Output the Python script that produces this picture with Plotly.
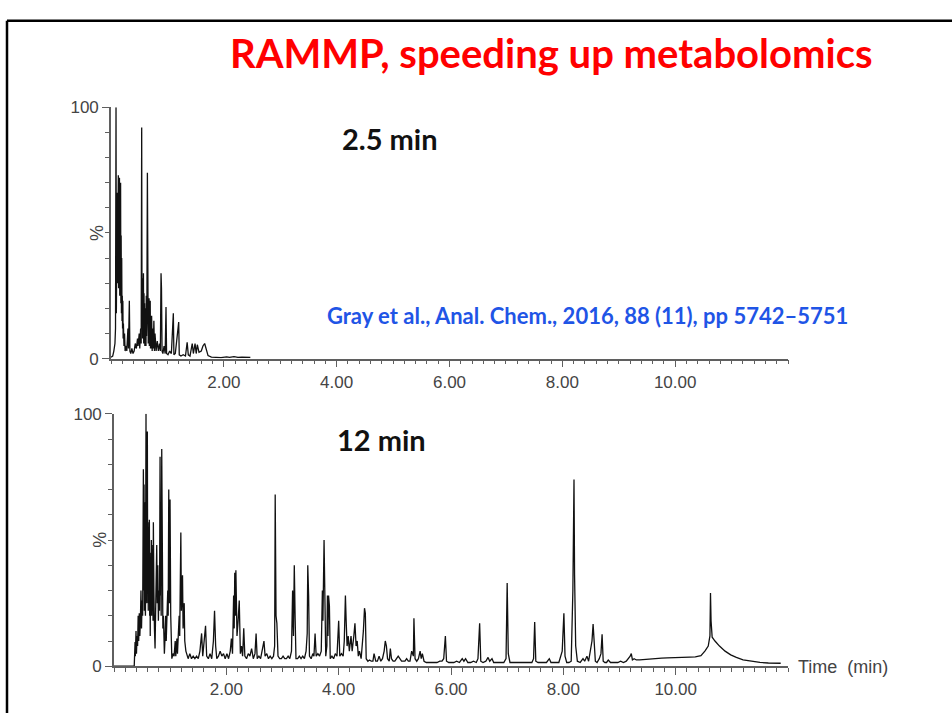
import plotly.graph_objects as go

# ---------------- data ----------------
X_TICK_VALUES = [2, 4, 6, 8, 10]
X_TICK_LABELS = ["2.00", "4.00", "6.00", "8.00", "10.00"]
Y_TICK_VALUES = [0, 100]
Y_TICK_LABELS = ["0", "100"]

# 2.5 min run: (time [min], intensity [%]) vertices of the chromatogram
TOP_POINTS = [
    (0.00, 0.5), (0.03, 1), (0.05, 3), (0.07, 6), (0.08, 12), (0.089, 100), (0.095, 18), (0.10, 45),
    (0.105, 20), (0.11, 66), (0.115, 30), (0.12, 72), (0.125, 40), (0.13, 73), (0.135, 28), (0.14, 68),
    (0.145, 45), (0.15, 72), (0.155, 25), (0.16, 60), (0.165, 30), (0.17, 70), (0.175, 22), (0.18, 49),
    (0.185, 18), (0.19, 40), (0.195, 15), (0.20, 25), (0.205, 12), (0.21, 23), (0.215, 8), (0.22, 14),
    (0.23, 5), (0.24, 10), (0.25, 3), (0.27, 5), (0.28, 3), (0.30, 12), (0.31, 4), (0.325, 23),
    (0.335, 3), (0.35, 2), (0.37, 4), (0.39, 2), (0.41, 3), (0.43, 6), (0.45, 4), (0.47, 8),
    (0.48, 5), (0.50, 10), (0.51, 4), (0.525, 12), (0.535, 6), (0.544, 92), (0.55, 12), (0.555, 32),
    (0.56, 8), (0.565, 28), (0.57, 12), (0.575, 34), (0.58, 6), (0.585, 26), (0.59, 10), (0.595, 22),
    (0.60, 5), (0.605, 20), (0.61, 8), (0.615, 17), (0.62, 5), (0.625, 25), (0.63, 9), (0.635, 14),
    (0.645, 74), (0.65, 8), (0.655, 25), (0.66, 6), (0.665, 22), (0.67, 8), (0.675, 24), (0.68, 5),
    (0.685, 19), (0.69, 8), (0.695, 23), (0.70, 4), (0.705, 16), (0.71, 4), (0.72, 17), (0.73, 3),
    (0.74, 12), (0.75, 4), (0.76, 15), (0.77, 3), (0.78, 10), (0.80, 3), (0.82, 7), (0.84, 3),
    (0.86, 6), (0.875, 3), (0.887, 34), (0.895, 28), (0.905, 3), (0.92, 2), (0.94, 5), (0.96, 2),
    (0.975, 20.5), (0.985, 2), (1.01, 1.5), (1.04, 3), (1.07, 2), (1.105, 18), (1.115, 1.5), (1.14, 2),
    (1.20, 14.5), (1.21, 1.5), (1.24, 1), (1.28, 1.5), (1.32, 1), (1.35, 6.5), (1.37, 1.5), (1.40, 1),
    (1.44, 6), (1.46, 2), (1.49, 6), (1.51, 2), (1.53, 5.5), (1.56, 2.5), (1.60, 3), (1.63, 5),
    (1.66, 6), (1.69, 3), (1.72, 1.2), (1.78, 0.6), (1.85, 0.5), (1.95, 0.4), (2.05, 0.7), (2.10, 0.5),
    (2.18, 0.8), (2.25, 0.5), (2.32, 0.6), (2.40, 0.5), (2.47, 0.5),
]

# 12 min run: (time [min], intensity [%]) vertices of the chromatogram
BOTTOM_POINTS = [
    (0.00, 0.0), (0.36, 0.0), (0.375, 9.6), (0.38, 4), (0.392, 14), (0.40, 5), (0.41, 12), (0.42, 8),
    (0.43, 20), (0.44, 10), (0.45, 21), (0.46, 12), (0.47, 18), (0.48, 30), (0.49, 15), (0.50, 26),
    (0.51, 20), (0.515, 60), (0.52, 25), (0.523, 78), (0.53, 30), (0.535, 72), (0.54, 22), (0.545, 65),
    (0.55, 28), (0.555, 58), (0.56, 20), (0.57, 100), (0.575, 35), (0.58, 62), (0.585, 25), (0.594, 93),
    (0.60, 30), (0.605, 57), (0.61, 22), (0.615, 55), (0.62, 25), (0.63, 58), (0.635, 20), (0.64, 45),
    (0.645, 12), (0.65, 38), (0.66, 22), (0.665, 50), (0.67, 20), (0.675, 35), (0.68, 25), (0.69, 48),
    (0.695, 18), (0.701, 57), (0.71, 30), (0.72, 15), (0.731, 7), (0.74, 20), (0.75, 30), (0.761, 48),
    (0.77, 25), (0.78, 40), (0.79, 18), (0.80, 30), (0.81, 22), (0.82, 83), (0.83, 28), (0.835, 40),
    (0.84, 20), (0.85, 86), (0.86, 30), (0.87, 15), (0.88, 20), (0.897, 5), (0.91, 12), (0.92, 20),
    (0.93, 10), (0.94, 22), (0.957, 30), (0.965, 20), (0.975, 70), (0.985, 25), (0.998, 66), (1.01, 20),
    (1.02, 8), (1.03, 3), (1.05, 5), (1.07, 4), (1.09, 10), (1.10, 4), (1.12, 11), (1.13, 5),
    (1.16, 20), (1.17, 12), (1.19, 53), (1.20, 22), (1.22, 36), (1.23, 15), (1.25, 25), (1.26, 10),
    (1.28, 6), (1.30, 4), (1.32, 3), (1.35, 5), (1.38, 3), (1.41, 4), (1.44, 3), (1.47, 4),
    (1.50, 3), (1.53, 6), (1.56, 13), (1.58, 4), (1.60, 8), (1.63, 16), (1.65, 4), (1.68, 3),
    (1.71, 5), (1.74, 3), (1.77, 10), (1.79, 22), (1.81, 8), (1.83, 3), (1.86, 4), (1.89, 6),
    (1.92, 4), (1.95, 5), (1.98, 3), (2.01, 5), (2.04, 3), (2.07, 6), (2.09, 11), (2.11, 5),
    (2.13, 28), (2.14, 15), (2.15, 37), (2.16, 20), (2.17, 38), (2.19, 12), (2.21, 18), (2.23, 26),
    (2.25, 5), (2.27, 8), (2.29, 4), (2.31, 15), (2.33, 4), (2.36, 3), (2.39, 5), (2.42, 4),
    (2.45, 7), (2.48, 3), (2.51, 5), (2.53, 13), (2.55, 3), (2.58, 4), (2.61, 3), (2.64, 6),
    (2.67, 10), (2.69, 4), (2.72, 5), (2.75, 3), (2.78, 4), (2.81, 3), (2.84, 4), (2.86, 8),
    (2.87, 68), (2.885, 20), (2.90, 17), (2.92, 4), (2.95, 3), (2.98, 3), (3.01, 4), (3.04, 3),
    (3.07, 3), (3.10, 4), (3.13, 3), (3.16, 6), (3.18, 30), (3.195, 12), (3.21, 40), (3.225, 19),
    (3.24, 3), (3.27, 3), (3.30, 4), (3.33, 3), (3.36, 4), (3.39, 3), (3.42, 6), (3.44, 13),
    (3.45, 40), (3.465, 28), (3.48, 4), (3.51, 3), (3.54, 5), (3.56, 4), (3.58, 13), (3.60, 4),
    (3.63, 5), (3.66, 4), (3.69, 6), (3.71, 30), (3.72, 18), (3.74, 50), (3.755, 32), (3.77, 4),
    (3.79, 8), (3.80, 28), (3.81, 12), (3.82, 28), (3.835, 24), (3.85, 3), (3.88, 4), (3.91, 3),
    (3.94, 5), (3.97, 4), (4.00, 18), (4.02, 4), (4.05, 5), (4.08, 4), (4.10, 10), (4.12, 28),
    (4.135, 17), (4.15, 8), (4.17, 12), (4.19, 6), (4.22, 12), (4.24, 6), (4.27, 12), (4.29, 17),
    (4.31, 8), (4.33, 10), (4.35, 4), (4.37, 6), (4.40, 3), (4.42, 8), (4.44, 14), (4.46, 23),
    (4.475, 21), (4.49, 3), (4.52, 2), (4.55, 2.5), (4.58, 2), (4.61, 2), (4.63, 5), (4.66, 2),
    (4.69, 2), (4.72, 4), (4.75, 2), (4.78, 3), (4.81, 6), (4.83, 10), (4.85, 8), (4.87, 3),
    (4.90, 2), (4.92, 7), (4.94, 3), (4.97, 2), (5.00, 2), (5.03, 3), (5.06, 4), (5.09, 3),
    (5.12, 2), (5.15, 2), (5.18, 2), (5.21, 3), (5.24, 2), (5.27, 2), (5.30, 6), (5.33, 4),
    (5.34, 19), (5.36, 3), (5.39, 2), (5.42, 3), (5.45, 6), (5.47, 3), (5.49, 5), (5.52, 2),
    (5.56, 1.5), (5.60, 1.5), (5.65, 1.5), (5.70, 1.5), (5.75, 1.5), (5.80, 2), (5.84, 2), (5.87, 3),
    (5.90, 12), (5.92, 2), (5.96, 1.5), (6.00, 1.5), (6.05, 1.5), (6.10, 2), (6.15, 1.5), (6.20, 3),
    (6.23, 2), (6.26, 3), (6.30, 1.5), (6.35, 1.5), (6.40, 2), (6.45, 1.5), (6.48, 3), (6.51, 17),
    (6.53, 2), (6.57, 1.5), (6.62, 2), (6.66, 3.5), (6.69, 2), (6.73, 3), (6.76, 1.5), (6.82, 1.5),
    (6.88, 1.5), (6.94, 1.5), (6.98, 3), (7.00, 33), (7.02, 5), (7.05, 1.5), (7.12, 1.5), (7.20, 1.5),
    (7.28, 1.5), (7.36, 1.5), (7.44, 1.5), (7.47, 3), (7.49, 17.5), (7.51, 2), (7.55, 1.5), (7.62, 1.5),
    (7.70, 1.5), (7.75, 3), (7.78, 1.5), (7.85, 1.5), (7.92, 1.5), (7.98, 6), (8.00, 16), (8.01, 21),
    (8.03, 4), (8.06, 1.5), (8.10, 1.5), (8.14, 2), (8.17, 30), (8.18, 65), (8.19, 74), (8.20, 36),
    (8.22, 8), (8.25, 2), (8.30, 1.5), (8.35, 3), (8.38, 2), (8.42, 4), (8.45, 2), (8.48, 6),
    (8.51, 10), (8.53, 16.7), (8.55, 6), (8.57, 2), (8.60, 1.5), (8.64, 3), (8.67, 5), (8.69, 12.7),
    (8.71, 2), (8.74, 1.5), (8.77, 1.5), (8.80, 2.5), (8.84, 1.5), (8.88, 1.5), (8.92, 1.5), (8.97, 1.5),
    (9.02, 2), (9.07, 1.5), (9.12, 2), (9.16, 3), (9.19, 4), (9.21, 5), (9.23, 2.5), (9.26, 3),
    (9.30, 2.5), (9.36, 2.5), (9.45, 2.7), (9.55, 3), (9.65, 3.1), (9.75, 3.2), (9.85, 3.3), (9.95, 3.3),
    (10.05, 3.5), (10.15, 3.4), (10.25, 3.6), (10.35, 3.7), (10.45, 4.2), (10.52, 6), (10.58, 8), (10.61, 12),
    (10.62, 29), (10.63, 18), (10.65, 11.5), (10.70, 10), (10.78, 8), (10.88, 6), (10.98, 4.5), (11.08, 3.5),
    (11.20, 2.5), (11.35, 2), (11.50, 1.5), (11.65, 1.3), (11.80, 1.2), (11.87, 1.2),
]

TOP_TIME = [p[0] for p in TOP_POINTS]
TOP_INTENSITY = [p[1] for p in TOP_POINTS]
BOTTOM_TIME = [p[0] for p in BOTTOM_POINTS]
BOTTOM_INTENSITY = [p[1] for p in BOTTOM_POINTS]

TITLE = "RAMMP, speeding up metabolomics"
TOP_LABEL = "2.5 min"
BOTTOM_LABEL = "12 min"
CITATION = "Gray et al., Anal. Chem., 2016, 88 (11), pp 5742\u20135751"

# ---------------- figure ----------------
W, H = 952, 723
AXIS_COLOR = "#5f5f5f"
TICK_FONT = dict(family="Liberation Sans, Arial", size=17, color="#444444")
LINE = dict(color="#111111", width=1.3)

fig = go.Figure()
fig.add_trace(go.Scatter(x=TOP_TIME, y=TOP_INTENSITY, mode="lines", line=LINE,
                         xaxis="x", yaxis="y", showlegend=False, hoverinfo="skip"))
fig.add_trace(go.Scatter(x=BOTTOM_TIME, y=BOTTOM_INTENSITY, mode="lines", line=LINE,
                         xaxis="x2", yaxis="y2", showlegend=False, hoverinfo="skip"))


def xaxis(domain, anchor):
    return dict(domain=domain, anchor=anchor, range=[0, 12], showgrid=False, zeroline=False,
                showline=True, linecolor=AXIS_COLOR, linewidth=1.6,
                tickmode="array", tickvals=X_TICK_VALUES, ticktext=X_TICK_LABELS,
                ticks="outside", ticklen=7, tickwidth=1.4, tickcolor=AXIS_COLOR,
                tickfont=TICK_FONT,
                minor=dict(tickmode="linear", tick0=0, dtick=0.2, ticks="outside",
                           ticklen=4, tickwidth=1.2, tickcolor=AXIS_COLOR, showgrid=False))


def yaxis(domain, anchor):
    return dict(domain=domain, anchor=anchor, range=[0, 100], showgrid=False, zeroline=False,
                showline=True, linecolor=AXIS_COLOR, linewidth=1.6,
                tickmode="array", tickvals=Y_TICK_VALUES, ticktext=Y_TICK_LABELS,
                ticks="outside", ticklen=7, tickwidth=1.4, tickcolor=AXIS_COLOR,
                tickfont=TICK_FONT,
                minor=dict(tickmode="linear", tick0=0, dtick=10, ticks="outside",
                           ticklen=4, tickwidth=1.2, tickcolor=AXIS_COLOR, showgrid=False))


fig.update_layout(
    width=W, height=H, margin=dict(l=0, r=0, t=0, b=0),
    paper_bgcolor="white", plot_bgcolor="white",
    xaxis=xaxis([111 / W, 788 / W], "y"),
    yaxis=yaxis([1 - 359 / H, 1 - 101 / H], "x"),
    xaxis2=xaxis([114 / W, 788 / W], "y2"),
    yaxis2=yaxis([1 - 675 / H, 1 - 415.7 / H], "x2"),
)

ann = [
    dict(text=TITLE, x=551 / W, y=1 - 45 / H, xref="paper", yref="paper", showarrow=False,
         xanchor="center", yanchor="middle",
         font=dict(family="Lato", size=40, color="#ff0000", weight="bold")),
    dict(text=TOP_LABEL, x=390 / W, y=1 - 133 / H, xref="paper", yref="paper", showarrow=False,
         xanchor="center", yanchor="middle",
         font=dict(family="Lato", size=29, color="#111111", weight="bold")),
    dict(text=BOTTOM_LABEL, x=381.5 / W, y=1 - 442 / H, xref="paper", yref="paper", showarrow=False,
         xanchor="center", yanchor="middle",
         font=dict(family="Lato", size=29, color="#111111", weight="bold")),
    dict(text=CITATION, x=587 / W, y=1 - 315 / H, xref="paper", yref="paper", showarrow=False,
         xanchor="center", yanchor="middle",
         font=dict(family="Lato", size=22, color="#1f55e6", weight="bold")),
    dict(text="%", x=97 / W, y=1 - 230 / H, xref="paper", yref="paper", showarrow=False,
         xanchor="center", yanchor="middle", textangle=-90,
         font=dict(family="Liberation Sans, Arial", size=18, color="#444444")),
    dict(text="%", x=100 / W, y=1 - 545 / H, xref="paper", yref="paper", showarrow=False,
         xanchor="center", yanchor="middle", textangle=-90,
         font=dict(family="Liberation Sans, Arial", size=18, color="#444444")),
    dict(text="Time  (min)", x=796 / W, y=1 - 676 / H, xref="paper", yref="paper", showarrow=False,
         xanchor="left", yanchor="middle",
         font=dict(family="Liberation Sans, Arial", size=18, color="#444444")),
]
fig.update_layout(annotations=ann)

# slide frame (left and top border)
fig.add_shape(type="line", xref="paper", yref="paper", x0=7 / W, x1=7 / W, y0=0, y1=1 - 12 / H,
              line=dict(color="black", width=2.5))
fig.add_shape(type="line", xref="paper", yref="paper", x0=7 / W, x1=1, y0=1 - 12 / H, y1=1 - 12 / H,
              line=dict(color="black", width=2.5))

fig.write_html("out.html")
